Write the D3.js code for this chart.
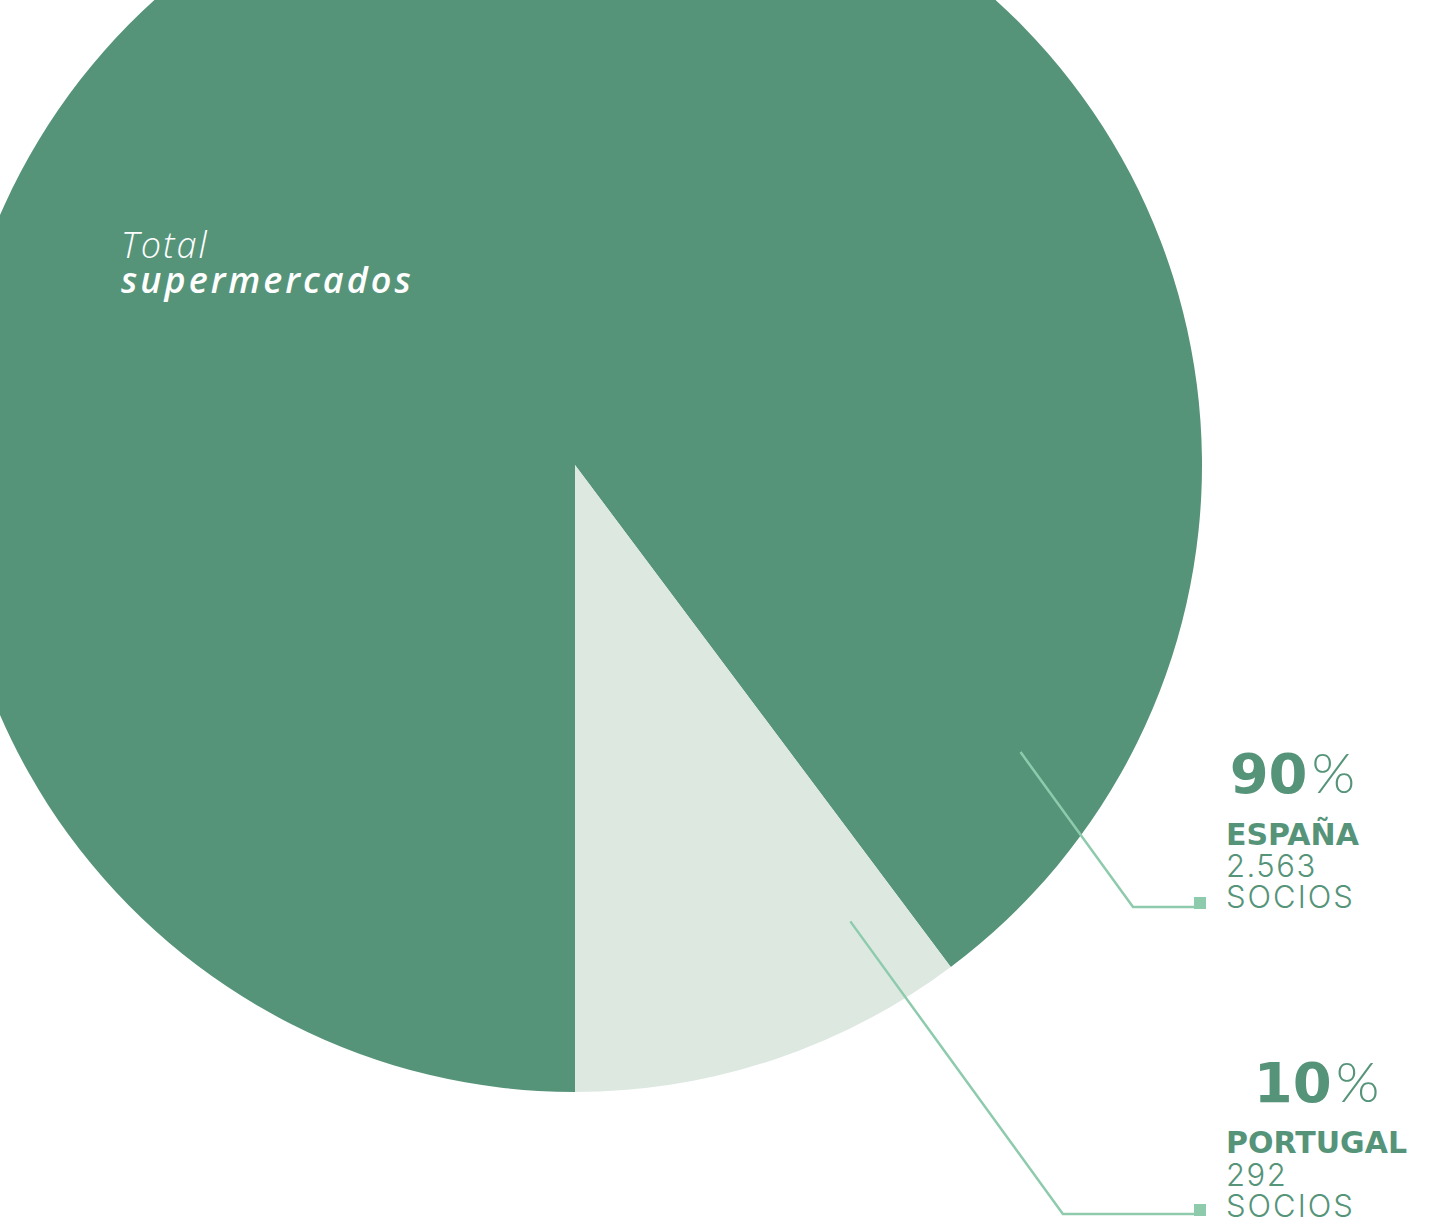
<!DOCTYPE html>
<html>
<head>
<meta charset="utf-8">
<script src="https://cdn.jsdelivr.net/npm/d3@7"></script>
<style>
  html, body { margin: 0; padding: 0; background: #ffffff; overflow: hidden; }
  svg { display: block; }
</style>
</head>
<body>
<svg id="chart" width="1429" height="1224"></svg>
<script>
// ---- data ----
const categories = ["ESPAÑA", "PORTUGAL"];
const socios = [2563, 292];
const percents = [90, 10];
const sociosLabels = ["2.563", "292"];
const unitLabel = "SOCIOS";
const titleLines = ["Total", "supermercados"];

// ---- style / layout ----
const W = 1429, H = 1224;
const cx = 575, cy = 465, R = 627;
const sliceColors = ["#56947a", "#dde8e1"];
const textColor = "#56947a";
const leaderColor = "#8ecbad";
const labelFont = "'DejaVu Sans', 'Noto Sans', sans-serif";
const lightFont = "Inter, 'Noto Sans', sans-serif";
const pctFont = "Lato, 'Noto Sans', sans-serif";
const titleFont = "'Open Sans', 'Noto Sans', sans-serif";

const svg = d3.select("#chart");

const pie = d3.pie().sort(null).startAngle(Math.PI).endAngle(3 * Math.PI);
const arcs = pie(socios);
const arc = d3.arc().innerRadius(0).outerRadius(R);

const g = svg.append("g").attr("transform", `translate(${cx},${cy})`);
g.selectAll("path.slice")
  .data(arcs)
  .join("path")
  .attr("class", "slice")
  .attr("d", arc)
  .attr("fill", (d, i) => sliceColors[i]);

// title inside the pie
svg.append("text")
  .attr("x", 121).attr("y", 258)
  .attr("font-family", titleFont).attr("font-style", "italic")
  .attr("font-size", 36).attr("font-weight", 300).attr("letter-spacing", 2)
  .attr("fill", "#ffffff")
  .text(titleLines[0]);
svg.append("text")
  .attr("x", 121).attr("y", 293)
  .attr("font-family", titleFont).attr("font-style", "italic")
  .attr("font-size", 36).attr("font-weight", 600).attr("letter-spacing", 3)
  .attr("fill", "#ffffff")
  .text(titleLines[1]);

// label blocks
const labelX = 1226;
const blocks = [
  { pctY: 793, nameY: 845, valY: 877, unitY: 908, lineY: 907, startA: 122.8, startR: 530 },
  { pctY: 1102, nameY: 1153, valY: 1186, unitY: 1217, lineY: 1214, startA: 148.9, startR: 533 }
];
const leaderSlope = Math.tan(36 * Math.PI / 180); // dx per dy

categories.forEach((cat, i) => {
  const b = blocks[i];
  const grp = svg.append("g");
  const name = grp.append("text")
    .attr("x", labelX).attr("y", b.nameY)
    .attr("font-family", labelFont).attr("font-weight", 700)
    .attr("font-size", 30).attr("fill", textColor)
    .text(cat);
  grp.append("text")
    .attr("x", labelX).attr("y", b.valY)
    .attr("font-family", lightFont).attr("font-weight", 300)
    .attr("font-size", 31).attr("letter-spacing", 1.5).attr("fill", textColor)
    .text(sociosLabels[i]);
  grp.append("text")
    .attr("x", labelX).attr("y", b.unitY)
    .attr("font-family", lightFont).attr("font-weight", 300)
    .attr("font-size", 31).attr("letter-spacing", 2).attr("fill", textColor)
    .text(unitLabel);

  const nameW = name.node().getComputedTextLength();
  const pct = grp.append("text")
    .attr("x", labelX + nameW / 2).attr("y", b.pctY)
    .attr("text-anchor", "middle")
    .attr("fill", textColor);
  pct.append("tspan").attr("font-family", labelFont).attr("font-weight", 700)
    .attr("font-size", 56).text(percents[i]);
  pct.append("tspan").attr("font-family", pctFont).attr("font-weight", 300)
    .attr("font-size", 56).attr("dx", 4).text("%");

  // leader line
  const a = b.startA * Math.PI / 180;
  const x0 = cx + b.startR * Math.sin(a);
  const y0 = cy - b.startR * Math.cos(a);
  const x1 = x0 + (b.lineY - y0) * leaderSlope;
  const x2 = 1200;
  svg.append("path")
    .attr("d", d3.line()([[x0, y0], [x1, b.lineY], [x2, b.lineY]]))
    .attr("fill", "none").attr("stroke", leaderColor).attr("stroke-width", 2.5);
  svg.append("rect")
    .attr("x", 1194).attr("y", b.lineY - 10)
    .attr("width", 12).attr("height", 12)
    .attr("fill", leaderColor);
});
</script>
</body>
</html>
